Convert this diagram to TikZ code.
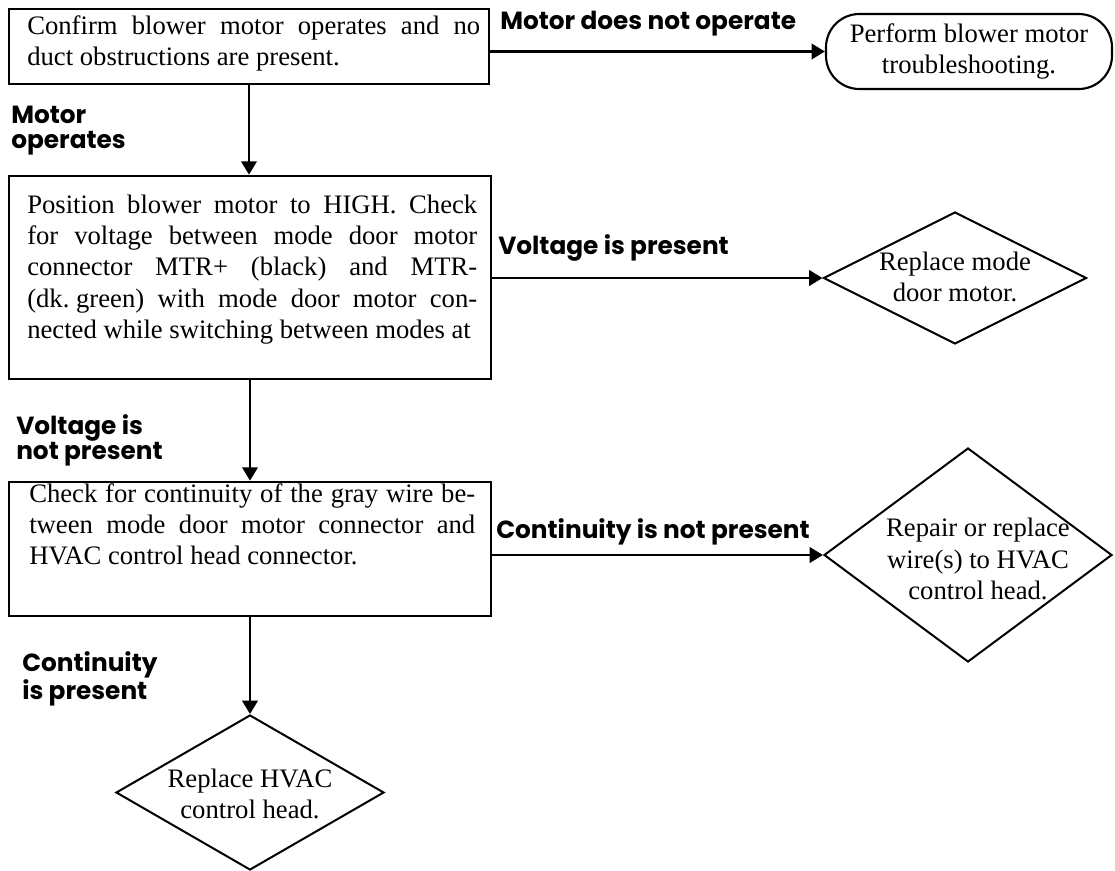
\documentclass[tikz,border=0pt]{standalone}
\usepackage{fontspec}
\setmainfont{Liberation Serif}
\newfontfamily\lblfont{Poppins}
\usetikzlibrary{arrows.meta,shapes.geometric}

% body text: justified serif, no automatic hyphenation
\newcommand\bodytext{\fontsize{20pt}{23.5pt}\selectfont\tolerance=10000 \pretolerance=-1 \hyphenpenalty=10000 \relax}
% branch labels: bold geometric sans
\newcommand\lbltext{\lblfont\bfseries\fontsize{18.6pt}{18.75pt}\selectfont}
\newcommand\bodyhead{\rule{0pt}{15pt}}
\newcommand\lblhead{\rule{0pt}{14pt}}

\begin{document}
\begin{tikzpicture}[x=0.75pt, y=-0.75pt,
  stepbox/.style={draw, line width=2pt, rectangle, inner sep=0pt},
  endbox/.style={draw, line width=1.6pt, rounded corners=25pt, inner sep=0pt, align=center, font=\bodytext},
  endgem/.style={draw, line width=1.5pt, diamond, inner sep=0pt},
  gemtext/.style={inner sep=0pt, align=center, font=\bodytext},
  bodypara/.style={anchor=north west, inner sep=0pt, align=justify, font=\bodytext},
  lbl/.style={inner sep=0pt, font=\lbltext, align=left},
  arr/.style={line width=2pt, -{Triangle[length=10pt,width=11.5pt]}},
]
\useasboundingbox (0,0) rectangle (1115,871);

% step 1
\node[stepbox, minimum width=360pt, minimum height=56.25pt] (s1) at (249,46.5) {};
\node[bodypara, text width=339.75pt] (s1t) at (27,14)
  {\bodyhead Confirm blower motor operates and no\linebreak duct obstructions are present.};
\node[endbox, minimum width=214.5pt, minimum height=56.25pt] (e1) at (969,51.5)
  {Perform blower motor\\troubleshooting.};

% step 2
\node[stepbox, minimum width=361.5pt, minimum height=152.25pt] (s2) at (250,277.5) {};
\node[bodypara, text width=337.5pt] (s2t) at (27,193)
  {\parfillskip=0pt\relax\bodyhead Position blower motor to HIGH. Check\linebreak
   for voltage between mode door motor\linebreak
   connector MTR+ (black) and MTR-\linebreak
   (dk.\hspace{0.25em}green) with mode door motor con-\linebreak
   nected while switching between modes at};
\node[endgem, minimum width=197.25pt, minimum height=99pt] (e2) at (955,278) {};
\node[gemtext] (e2t) at (955,277) {Replace mode\\door motor.};

% step 3
\node[stepbox, minimum width=361.5pt, minimum height=100.5pt] (s3) at (250,549) {};
\node[bodypara, text width=334.5pt] (s3t) at (29,482)
  {\bodyhead Check for continuity of the gray wire be-\linebreak
   tween mode door motor connector and\linebreak
   HVAC control head connector.};
\node[endgem, minimum width=216pt, minimum height=160.5pt] (e3) at (968,555) {};
\node[gemtext] (e3t) at (978,559) {Repair or replace\\wire(s) to HVAC\\control head.};

% final action
\node[endgem, minimum width=201pt, minimum height=116.25pt] (e4) at (250,792.5) {};
\node[gemtext] (e4t) at (250,794) {Replace HVAC\\control head.};

% branch labels
\node[lbl, anchor=base west] (l1) at (500,29) {Motor does not operate};
\node[lbl, anchor=north west] (l2) at (11,104.3) {\lblhead Motor\\operates};
\node[lbl, anchor=base west] (l3) at (498,254) {Voltage is present};
\node[lbl, anchor=north west] (l4) at (16,414.3) {\lblhead Voltage is\\not present};
\node[lbl, anchor=base west] (l5) at (496,538) {Continuity is not present};
\node[lbl, anchor=north west] (l6) at (22,651.3) {\lblhead Continuity\\is present};

% connectors
\draw[arr] (s1.east |- e1.west) -- (e1.west);
\draw[arr] (s1.south) -- (s1.south |- s2.north);
\draw[arr] (s2.east |- e2.west) -- (e2.west);
\draw[arr] (s2.south) -- (s2.south |- s3.north);
\draw[arr] (s3.east |- e3.west) -- (e3.west);
\draw[arr] (s3.south) -- (s3.south |- e4.north);
\end{tikzpicture}
\end{document}
